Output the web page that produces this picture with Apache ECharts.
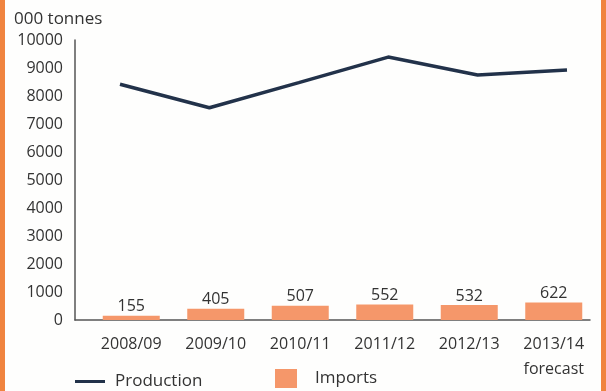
<!DOCTYPE html>
<html>
<head>
<meta charset="utf-8">
<script src="https://cdn.jsdelivr.net/npm/echarts@6/dist/echarts.min.js"></script>
<style>
html,body{margin:0;padding:0;background:#fff;}
#wrap{position:absolute;left:0;top:0;width:606px;height:391px;box-sizing:border-box;border-left:5px solid #F0843F;border-right:5px solid #F0843F;background:#fefefd;}
#chart{position:absolute;left:-5px;top:0;width:606px;height:391px;}
</style>
</head>
<body>
<div id="wrap"><div id="chart"></div></div>
<script>
const categories = ['2008/09','2009/10','2010/11','2011/12','2012/13','2013/14\nforecast'];
const production = [8420, 7580, 8480, 9390, 8750, 8930];
const imports = [155, 405, 507, 552, 532, 622];
const yTicks = {min: 0, max: 10000, interval: 1000};
const unitLabel = '000 tonnes';

const font = 'Open Sans';
const txt = '#333';
const chart = echarts.init(document.getElementById('chart'), null, {renderer: 'canvas'});
const gTop = 40, gBottom = 71;
chart.setOption({
  animation: false,
  textStyle: {fontFamily: font},
  title: {text: unitLabel, left: 14, top: 11, padding: 0, textStyle: {fontFamily: font, fontSize: 17, fontWeight: 'normal', color: txt}},
  grid: [
    {left: 75, right: 16, top: gTop, bottom: gBottom},
    {left: 89, right: 10, top: gTop, bottom: gBottom},
    {left: 120, right: 39, top: gTop, bottom: gBottom}
  ],
  xAxis: [
    {gridIndex: 0, type: 'category', data: categories, axisLine: {lineStyle: {color: '#555', width: 1.5}}, axisTick: {show: false}, axisLabel: {show: false}},
    {gridIndex: 1, type: 'category', data: categories, axisLine: {show: false}, axisTick: {show: false},
      axisLabel: {fontFamily: font, fontSize: 16, color: txt, margin: 12, lineHeight: 25}},
    {gridIndex: 2, type: 'category', data: categories, boundaryGap: false, show: false}
  ],
  yAxis: [
    {gridIndex: 0, type: 'value', min: yTicks.min, max: yTicks.max, interval: yTicks.interval,
      axisLine: {show: true, lineStyle: {color: '#555', width: 1.5}}, axisTick: {show: false}, splitLine: {show: false},
      axisLabel: {fontFamily: font, fontSize: 16, color: txt, margin: 12, formatter: v => String(v)}},
    {gridIndex: 1, type: 'value', min: yTicks.min, max: yTicks.max, show: false, splitLine: {show: false}},
    {gridIndex: 2, type: 'value', min: yTicks.min, max: yTicks.max, show: false, splitLine: {show: false}}
  ],
  legend: [
    {data: [{name: 'Production', icon: 'rect'}], left: 75, top: 373, padding: 0, itemWidth: 30, itemHeight: 3, itemGap: 0,
      textStyle: {fontFamily: font, fontSize: 17, color: txt, padding: [0, 0, 0, 5]}},
    {data: [{name: 'Imports', icon: 'rect'}], left: 275, top: 369, padding: 0, itemWidth: 22, itemHeight: 19,
      textStyle: {fontFamily: font, fontSize: 17, color: txt, padding: [4, 0, 0, 13]}}
  ],
  series: [
    {name: 'Imports', type: 'bar', xAxisIndex: 1, yAxisIndex: 1, data: imports, barWidth: 57,
      itemStyle: {color: '#F5976A'},
      label: {show: true, position: 'top', distance: 1, fontFamily: font, fontSize: 16, color: txt}},
    {name: 'Production', type: 'line', xAxisIndex: 2, yAxisIndex: 2, data: production, symbol: 'none',
      lineStyle: {color: '#22324A', width: 3.5}, itemStyle: {color: '#22324A'}}
  ]
});
</script>
</body>
</html>
